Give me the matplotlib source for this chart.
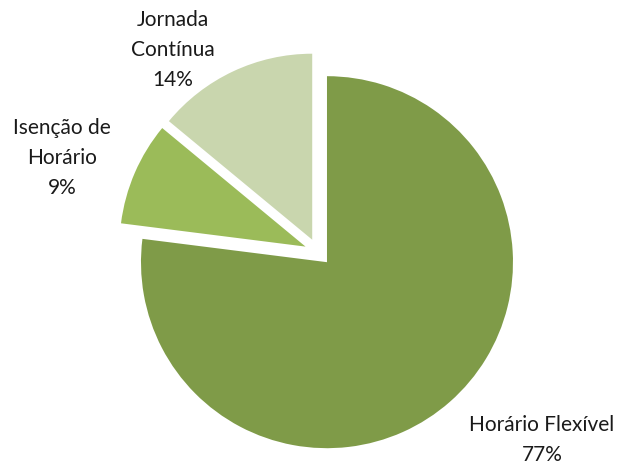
import matplotlib.pyplot as plt

labels = ["Horário Flexível", "Isenção de\nHorário", "Jornada\nContínua"]
shares = [77, 9, 14]
colors = ["#7F9B48", "#9BBB59", "#C9D6AE"]
# label centres, in pie radii from the centre
label_pos = [(1.204, -1.005), (-1.376, 0.511), (-0.780, 1.091)]

plt.rcParams["font.family"] = ["Lato", "DejaVu Sans"]

fig = plt.figure(figsize=(6.19, 4.64), dpi=100)
ax = fig.add_axes([0, 0, 1, 1])

wedges, texts = ax.pie(
    shares,
    labels=[f"{l}\n{s}%" for l, s in zip(labels, shares)],
    colors=colors,
    startangle=90,
    counterclock=False,
    explode=[0.073] * 3,
    radius=1,
    wedgeprops=dict(linewidth=0),
)
for t, (x, y) in zip(texts, label_pos):
    t.set_position((x, y))
    t.set_ha("center")
    t.set_va("center")
    t.set_fontsize(15)
    t.set_linespacing(1.65)
    t.set_color("#1a1a1a")

ax.set_aspect("auto")
ax.set_xlim(-318 / 186, 301 / 186)
ax.set_ylim(-211 / 186, 253 / 186)
ax.axis("off")

fig.savefig("out.png", dpi=100)
